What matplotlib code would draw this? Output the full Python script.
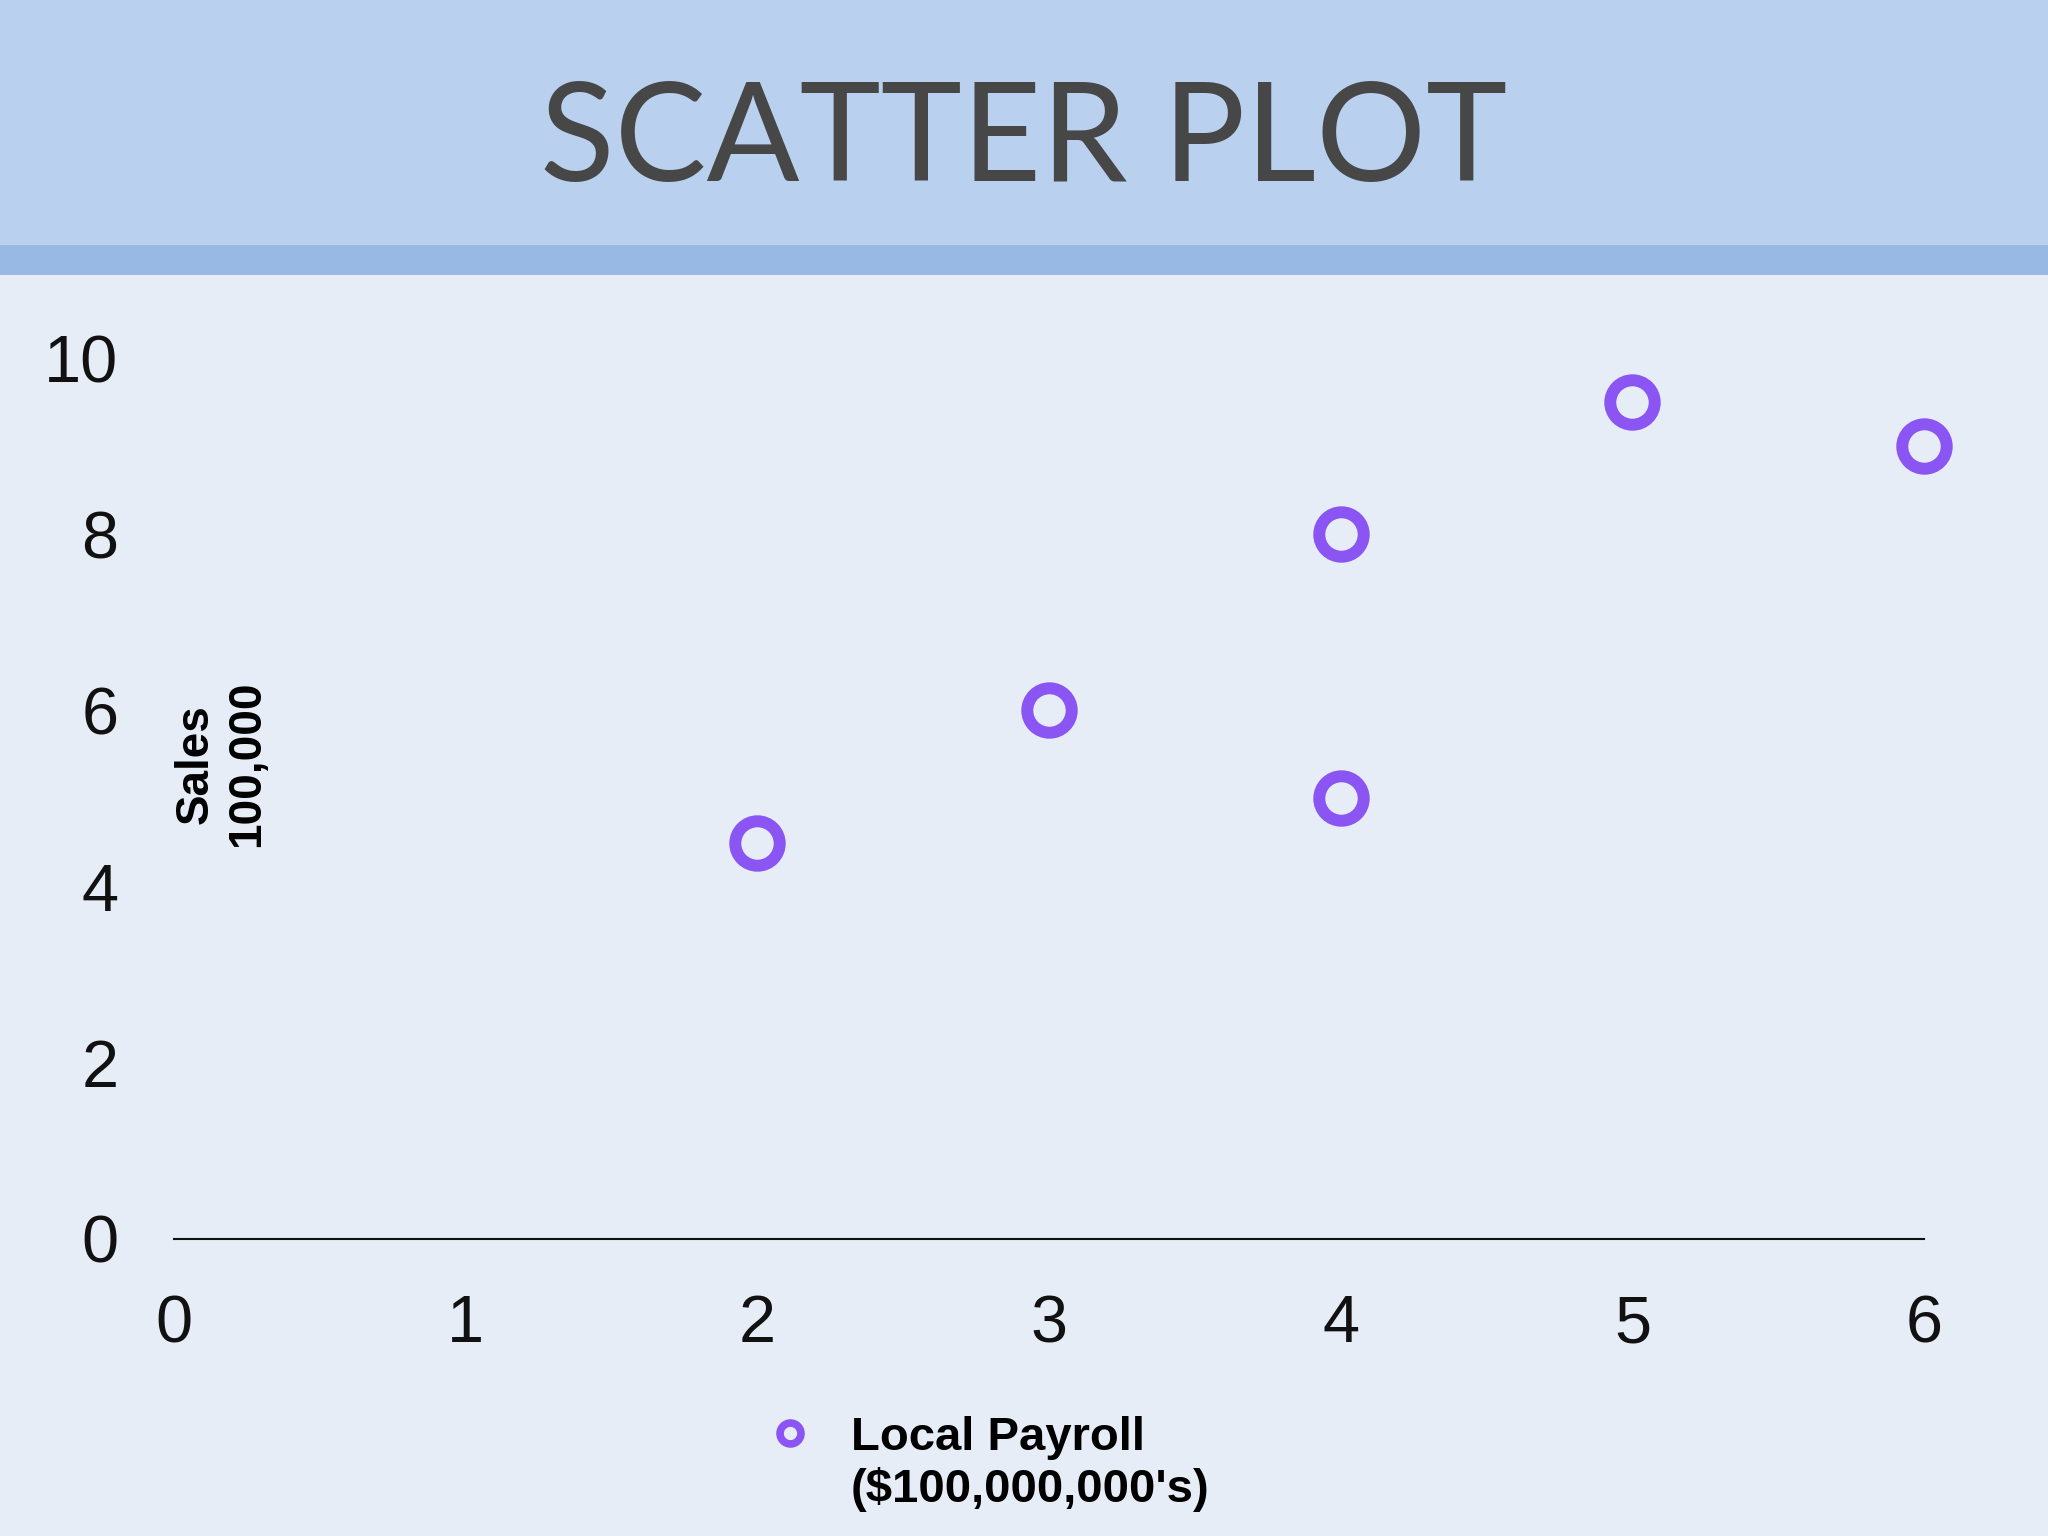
import matplotlib.pyplot as plt
from matplotlib.patches import Rectangle

# data
payroll = [2, 3, 4, 4, 5, 6]
sales = [4.5, 6, 8, 5, 9.5, 9]
x_ticks = [0, 1, 2, 3, 4, 5, 6]
y_ticks = [0, 2, 4, 6, 8, 10]

purple = "#8a55f2"

fig = plt.figure(figsize=(20.48, 15.36), dpi=100)
fig.patch.set_facecolor("#e7edf6")

# header band
fig.patches.append(Rectangle((0, 1 - 250 / 1536), 1, 250 / 1536, transform=fig.transFigure,
                             facecolor="#b9d1ee", edgecolor="none", zorder=0))
fig.patches.append(Rectangle((0, 1 - 275 / 1536), 1, 30 / 1536, transform=fig.transFigure,
                             facecolor="#98b9e4", edgecolor="none", zorder=0))

fig.text(0.5, 1 - 143 / 1536, "SCATTER PLOT", ha="center", va="center",
         fontsize=99, color="#474747", family="Lato", fontweight="normal")

ax = fig.add_axes([0.085, 0.1934, 0.8545, 0.5735])
ax.set_facecolor("none")

ax.plot(payroll, sales, linestyle="none", marker="o", markersize=32,
        markerfacecolor="none", markeredgecolor=purple, markeredgewidth=8.6,
        clip_on=False, label="Local Payroll\n($100,000,000's)")

ax.set_xlim(0, 6)
ax.set_ylim(0, 10)
ax.set_xticks(x_ticks)
ax.set_yticks(y_ticks)

for s in ["top", "right", "left"]:
    ax.spines[s].set_visible(False)
ax.spines["bottom"].set_linewidth(1.5)
ax.spines["bottom"].set_color("#111111")

ax.tick_params(axis="both", length=0, labelsize=48, labelcolor="#111111")
ax.tick_params(axis="x", pad=40)
ax.tick_params(axis="y", pad=40)
for lab in ax.get_xticklabels() + ax.get_yticklabels():
    lab.set_family("Liberation Sans")

ax.text(0.027, 0.539, "Sales\n100,000", transform=ax.transAxes, rotation=90,
        ha="center", va="center", multialignment="center", fontsize=33,
        fontweight="bold", family="Liberation Sans", linespacing=1.2)

leg = fig.legend(loc="upper left", bbox_to_anchor=(714 / 2048, 1 - 1374 / 1536),
                 frameon=False, handlelength=1.4, handletextpad=0.6, markerscale=0.47,
                 prop={"family": "Liberation Sans", "weight": "bold", "size": 34})
for h in leg.legend_handles:
    h.set_markeredgewidth(5.5)
# put the marker next to the first line of the label
for col in leg._legend_handle_box.get_children():
    for item in col.get_children():
        item.align = "top"

fig.savefig("out.png", dpi=100, facecolor=fig.get_facecolor())
